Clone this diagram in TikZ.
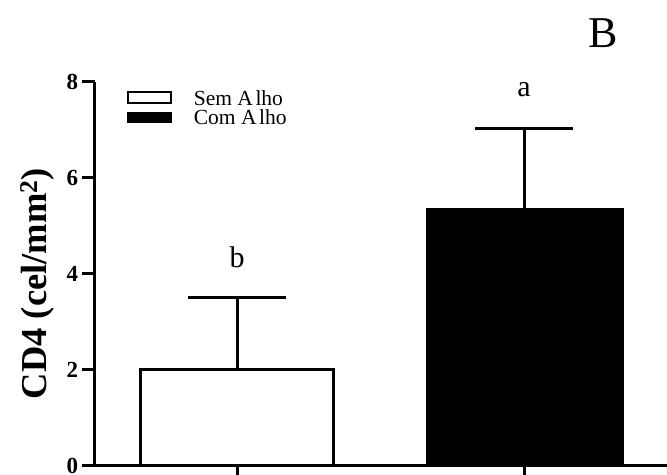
\documentclass[tikz,border=0pt]{standalone}
\usepackage{fontspec}
\setmainfont{Liberation Serif}
\usetikzlibrary{positioning}

\begin{document}
\begin{tikzpicture}[x=1pt,y=48pt,line width=3pt]
    \useasboundingbox (-95,-0.1875) rectangle (572,9.708);
    % axes
    \draw (0,8) -- (0,0) -- (572,0);
    \foreach \v in {0,2,4,6,8}
        \draw (-13,\v) -- (0,\v) node[left=12pt,font=\fontsize{23}{25}\selectfont\bfseries] {\v};
    \draw (142,0) -- (142,-0.2);
    \draw (429,0) -- (429,-0.2);
    \node[rotate=90,font=\fontsize{36.5}{40}\selectfont\bfseries] (ytitle) at (-58,3.8) {CD4 (cel/mm$^{\mathbf{2}}$)};
    % bars
    \draw[fill=white] (45,0) rectangle (238,2);
    \draw[fill=black] (332,0) rectangle (527,5.35);
    % error bars
    \draw (142,2) -- (142,3.5);
    \draw (93,3.5) -- (191,3.5);
    \draw (429,5.35) -- (429,7.04);
    \draw (380,7.04) -- (478,7.04);
    \node[font=\fontsize{30}{32}\selectfont] (lb) at (142,4.35) {b};
    \node[font=\fontsize{30}{32}\selectfont] (la) at (429,7.85) {a};
    \node[font=\fontsize{44}{48}\selectfont] (panel) at (508,9.02) {B};
    % legend
    \draw[line width=2.5pt,fill=white] (33,7.56) rectangle (76,7.79);
    \fill (32,7.15) rectangle (77,7.38);
    \node[anchor=west,font=\fontsize{21.5}{23}\selectfont] (sem) at (94,7.67) {Sem A\hspace{0.12em}lho};
    \node[anchor=west,font=\fontsize{21.5}{23}\selectfont] (com) at (94,7.26) {Com A\hspace{0.12em}lho};
\end{tikzpicture}
\end{document}
